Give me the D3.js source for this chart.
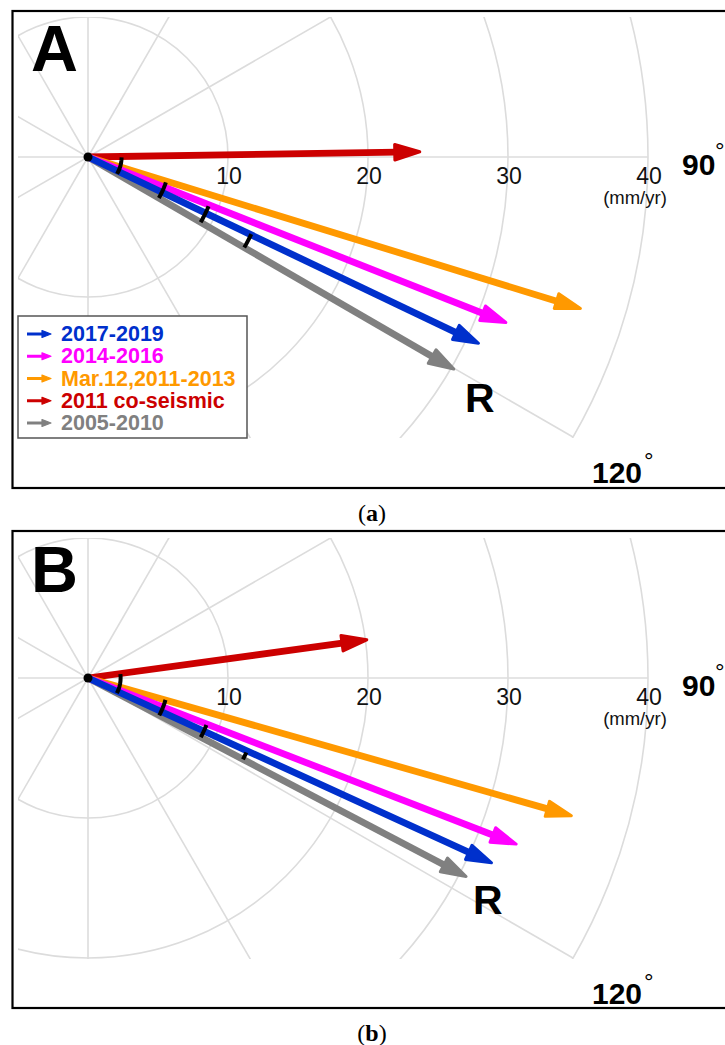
<!DOCTYPE html>
<html>
<head>
<meta charset="utf-8">
<script src="https://cdn.jsdelivr.net/npm/d3@7"></script>
<style>
  body { margin: 0; background: #fff; }
  svg { display: block; }
</style>
</head>
<body>
<svg id="chart" width="725" height="1045"></svg>
<script>
// GNSS velocity vectors per period: magnitude (mm/yr) and azimuth (deg, clockwise from north)
const periods   = ["2017-2019", "2014-2016", "Mar.12,2011-2013", "2011 co-seismic", "2005-2010"];
const colors    = ["#0030cc", "#ff00ff", "#ff9900", "#cc0000", "#808080"];
const speedA    = [30.9, 32.1, 36.8, 23.7, 30.2];
const azimuthA  = [115.5, 111.6, 107.1, 89.1, 120.1];
const speedB    = [31.7, 32.8, 35.9, 20.1, 30.5];
const azimuthB  = [114.6, 111.2, 105.9, 82.2, 117.7];

// radial grid and tick labels
const ringValues  = [10, 20, 30, 40];
const ringLabels  = ["10", "20", "30", "40"];
const spokeAngles = [0, 30, 60, 90, 120, 150, 180, 210, 240, 270, 300, 330];
const unitLabel   = "(mm/yr)";
const angleLabels = ["90", "120"];

// short marks laid across the 2005-2010 vector: radius (mm/yr) and start azimuth (deg)
const markRadiusA = [2.4, 5.85, 9.3, 12.9];
const markStartA  = [90.5, 108.1, 112.2, 115.3];
const markRadiusB = [2.33, 5.75, 9.1, 12.5];
const markStartB  = [83.0, 105.8, 111.7, 115.2];

const panelNames = ["A", "B"];
const captions   = ["a", "b"];

// ---------------------------------------------------------------------------
const svg = d3.select("#chart");
const r = d3.scaleLinear().domain([0, 40]).range([0, 560]);
// visible window of the polar plane, in mm/yr (east, south)
const view = { xMin: -5, xMax: 46, yMin: -10, yMax: 20.07 };

const FONT = "'Liberation Sans', Arial, Helvetica, sans-serif";
const grid = "#dcdcdc";

function polar(val, az) {
  const a = az * Math.PI / 180;
  return [r(val) * Math.sin(a), -r(val) * Math.cos(a)];
}

function arrowPath(len, az) {
  // arrow head polygon (closed triangle), in px from origin
  const a = az * Math.PI / 180;
  const u = [Math.sin(a), -Math.cos(a)];
  const n = [Math.cos(a), Math.sin(a)];
  const L = r(len), depth = 25, half = 7.8;
  const tip = [u[0] * L, u[1] * L];
  const b = [u[0] * (L - depth), u[1] * (L - depth)];
  return {
    tip, base: [u[0] * (L - depth + 2), u[1] * (L - depth + 2)],
    head: [tip, [b[0] + n[0] * half, b[1] + n[1] * half], [b[0] - n[0] * half, b[1] - n[1] * half]]
  };
}

const panels = [
  { origin: [88, 157], frameTop: 11, speed: speedA, az: azimuthA, markR: markRadiusA, markS: markStartA,
    legend: true, rLabel: [377, 255] },
  { origin: [88, 678], frameTop: 531, speed: speedB, az: azimuthB, markR: markRadiusB, markS: markStartB,
    legend: false, rLabel: [385, 236] }
];

panels.forEach((p, pi) => {
  // frame
  svg.append("rect")
    .attr("x", 12.5).attr("y", p.frameTop).attr("width", 760).attr("height", 477)
    .attr("fill", "#fff").attr("stroke", "#000").attr("stroke-width", 2.2);

  const g = svg.append("g").attr("transform", `translate(${p.origin[0]},${p.origin[1]})`);

  const clipId = "clip" + pi;
  g.append("clipPath").attr("id", clipId).append("rect")
    .attr("x", r(view.xMin)).attr("y", -r(-view.yMin))
    .attr("width", r(view.xMax - view.xMin)).attr("height", r(view.yMax - view.yMin));

  const gridG = g.append("g").attr("clip-path", `url(#${clipId})`);
  gridG.selectAll("circle.ring").data(ringValues).join("circle")
    .attr("class", "ring").attr("r", d => r(d))
    .attr("fill", "none").attr("stroke", grid).attr("stroke-width", 1.6);
  gridG.selectAll("line.spoke").data(spokeAngles).join("line")
    .attr("class", "spoke")
    .attr("x1", 0).attr("y1", 0)
    .attr("x2", d => polar(40, d)[0]).attr("y2", d => polar(40, d)[1])
    .attr("stroke", grid).attr("stroke-width", 1.6);

  // radial tick labels
  g.selectAll("text.rt").data(ringValues).join("text")
    .attr("class", "rt")
    .attr("x", d => r(d) + 1).attr("y", 27)
    .attr("text-anchor", "middle")
    .attr("font-family", FONT).attr("font-size", 23).attr("fill", "#111")
    .text((d, i) => ringLabels[i]);
  g.append("text")
    .attr("x", r(40) - 13).attr("y", 47)
    .attr("text-anchor", "middle")
    .attr("font-family", FONT).attr("font-size", 18.5).attr("fill", "#111")
    .text(unitLabel);

  // azimuth labels
  const angPos = [[594, 18, 627, 2], [504, 326, 556, 312]];
  angleLabels.forEach((lab, i) => {
    g.append("text")
      .attr("x", angPos[i][0]).attr("y", angPos[i][1])
      .attr("font-family", FONT).attr("font-weight", "bold").attr("font-size", 30)
      .text(lab);
    g.append("text")
      .attr("x", angPos[i][2]).attr("y", angPos[i][3])
      .attr("font-family", FONT).attr("font-size", 24)
      .text("°");
  });

  // panel letter
  g.append("text")
    .attr("x", 31 - p.origin[0]).attr("y", -86)
    .attr("font-family", FONT).attr("font-weight", "bold").attr("font-size", 65)
    .text(panelNames[pi]);

  // velocity vectors, oldest period drawn first
  const order = d3.range(periods.length).reverse();
  const vg = g.append("g");
  order.forEach(i => {
    const a = arrowPath(p.speed[i], p.az[i]);
    vg.append("line")
      .attr("x1", 0).attr("y1", 0).attr("x2", a.base[0]).attr("y2", a.base[1])
      .attr("stroke", colors[i]).attr("stroke-width", 6.8);
    vg.append("path")
      .attr("d", "M" + a.head.map(q => q.join(",")).join("L") + "Z")
      .attr("fill", colors[i]).attr("stroke", colors[i])
      .attr("stroke-width", 3).attr("stroke-linejoin", "round");
  });

  // marks across the 2005-2010 vector
  const grayAz = p.az[4];
  const markLine = d3.lineRadial().angle(d => d[1] * Math.PI / 180).radius(d => r(d[0]));
  p.markR.forEach((mr, k) => {
    const s = p.markS[k];
    const pts = d3.range(0, 7).map(j => [mr, s + (grayAz - s) * j / 6]);
    g.append("path").attr("d", markLine(pts))
      .attr("fill", "none").attr("stroke", "#000").attr("stroke-width", 4);
  });

  // origin
  g.append("circle").attr("r", 4.5).attr("fill", "#000");

  // reference direction label
  g.append("text")
    .attr("x", p.rLabel[0]).attr("y", p.rLabel[1])
    .attr("font-family", FONT).attr("font-weight", "bold").attr("font-size", 41)
    .text("R");

  // legend
  if (p.legend) {
    const lg = svg.append("g");
    lg.append("rect")
      .attr("x", 18).attr("y", 316).attr("width", 229).attr("height", 122)
      .attr("fill", "#fff").attr("stroke", "#555").attr("stroke-width", 1.5);
    periods.forEach((name, i) => {
      const y = 341 + i * 22.25;
      const cy = y - 7;
      lg.append("line")
        .attr("x1", 27).attr("y1", cy).attr("x2", 44).attr("y2", cy)
        .attr("stroke", colors[i]).attr("stroke-width", 3);
      lg.append("path")
        .attr("d", `M51,${cy}L42,${cy - 3.5}L42,${cy + 3.5}Z`)
        .attr("fill", colors[i]).attr("stroke", colors[i])
        .attr("stroke-width", 1.2).attr("stroke-linejoin", "round");
      lg.append("text")
        .attr("x", 61).attr("y", y)
        .attr("font-family", FONT).attr("font-weight", "bold").attr("font-size", 21.5)
        .attr("fill", colors[i])
        .text(name);
    });
  }

  // caption
  const cap = svg.append("text")
    .attr("x", 372).attr("y", p.frameTop + 477 + 33)
    .attr("text-anchor", "middle")
    .attr("font-family", "'Liberation Serif', 'Times New Roman', serif")
    .attr("font-size", 24).attr("fill", "#000");
  cap.append("tspan").text("(");
  cap.append("tspan").attr("font-weight", "bold").text(captions[pi]);
  cap.append("tspan").text(")");
});
</script>
</body>
</html>
